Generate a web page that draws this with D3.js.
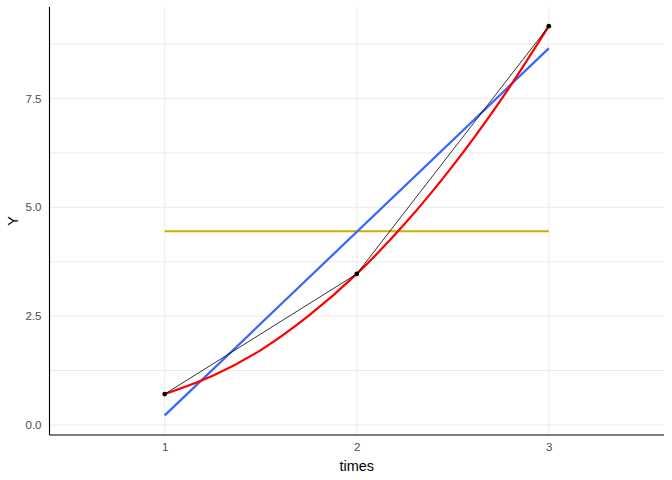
<!DOCTYPE html>
<html><head><meta charset="utf-8">
<script src="https://cdn.jsdelivr.net/npm/d3@7"></script>
<style>body{margin:0;background:#fff}svg{display:block;font-family:"Liberation Sans",Arial,sans-serif}</style>
</head><body>
<script>
const times = [1, 2, 3];
const yValues = [0.71, 3.47, 9.16];
const meanValue = [4.45, 4.45];
const linearFit = [0.22, 8.65];
const smoothX = [1, 1.25, 1.5, 1.75, 2, 2.25, 2.5, 2.75, 3];
const smoothY = [0.71, 1.13, 1.72, 2.51, 3.47, 4.62, 5.95, 7.46, 9.16];
const xTicks = [1, 2, 3];
const yTicks = [0, 2.5, 5, 7.5];
const yMinor = [1.25, 3.75, 6.25, 8.75];

const W = 672, H = 480;
const m = {l: 49.5, r: 8, t: 7, b: 45};
const svg = d3.select("body").append("svg").attr("width", W).attr("height", H);
const x = d3.scaleLinear().domain([0.4, 3.6]).range([m.l, W - m.r]);
const y = d3.scaleLinear().domain([-0.23, 9.6]).range([H - m.b, m.t]);

const g = svg.append("g");
// grid
g.selectAll(".ymin").data(yMinor).join("line")
  .attr("x1", m.l).attr("x2", W - m.r).attr("y1", d => y(d)).attr("y2", d => y(d))
  .attr("stroke", "#ebebeb").attr("stroke-width", 1);
g.selectAll(".ymaj").data(yTicks).join("line")
  .attr("x1", m.l).attr("x2", W - m.r).attr("y1", d => y(d)).attr("y2", d => y(d))
  .attr("stroke", "#ebebeb").attr("stroke-width", 1);
g.selectAll(".xmaj").data(xTicks).join("line")
  .attr("y1", m.t).attr("y2", H - m.b).attr("x1", d => x(d)).attr("x2", d => x(d))
  .attr("stroke", "#ebebeb").attr("stroke-width", 1);

// axes
const xAxis = d3.axisBottom(x).tickValues(xTicks).tickFormat(d3.format("d")).tickSize(0).tickPadding(8);
const yAxis = d3.axisLeft(y).tickValues(yTicks).tickFormat(d3.format(".1f")).tickSize(0).tickPadding(8);
const ax = svg.append("g").attr("transform", `translate(0,${H - m.b})`).call(xAxis);
const ay = svg.append("g").attr("transform", `translate(${m.l},0)`).call(yAxis);
[ax, ay].forEach(a => {
  a.select(".domain").remove();
  a.selectAll("text").attr("fill", "#4d4d4d").style("font-size", "11.5px").style("font-family", "Liberation Sans, Arial, sans-serif");
});
svg.append("line").attr("x1", m.l).attr("x2", W - m.r).attr("y1", H - m.b).attr("y2", H - m.b).attr("stroke", "#000").attr("stroke-width", 1.1);
svg.append("line").attr("x1", m.l).attr("x2", m.l).attr("y1", m.t).attr("y2", H - m.b).attr("stroke", "#000").attr("stroke-width", 1.1);

// titles
svg.append("text").attr("x", x(2)).attr("y", 471).attr("text-anchor", "middle").attr("font-size", "14.5px").attr("fill", "#000").text("times");
svg.append("text").attr("transform", `translate(18,${(m.t + H - m.b) / 2}) rotate(-90)`).attr("text-anchor", "middle").attr("font-size", "14.5px").attr("fill", "#000").text("Y");

const line = d3.line().x(d => x(d[0])).y(d => y(d[1]));
// mean line
g.append("path").datum([[times[0], meanValue[0]], [times[2], meanValue[1]]])
  .attr("d", line).attr("fill", "none").attr("stroke", "#cdad00").attr("stroke-width", 2);
// linear fit
g.append("path").datum([[times[0], linearFit[0]], [times[2], linearFit[1]]])
  .attr("d", line).attr("fill", "none").attr("stroke", "#3366ff").attr("stroke-width", 2.2);
// smooth
g.append("path").datum(smoothX.map((v, i) => [v, smoothY[i]]))
  .attr("d", line.curve(d3.curveCatmullRom)).attr("fill", "none").attr("stroke", "#ff0000").attr("stroke-width", 2.2);
// data line
g.append("path").datum(times.map((v, i) => [v, yValues[i]]))
  .attr("d", d3.line().x(d => x(d[0])).y(d => y(d[1]))).attr("fill", "none").attr("stroke", "#000").attr("stroke-width", 0.8);
g.selectAll(".pt").data(times.map((v, i) => [v, yValues[i]])).join("circle")
  .attr("cx", d => x(d[0])).attr("cy", d => y(d[1])).attr("r", 2.4).attr("fill", "#000");
</script>
</body></html>
